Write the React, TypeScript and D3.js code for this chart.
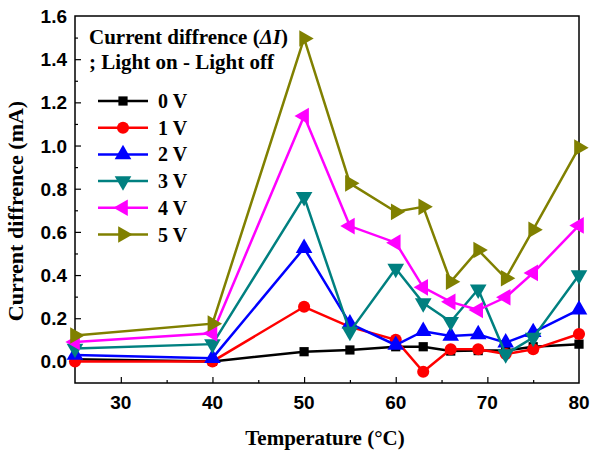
import React, { useRef, useEffect } from "react";
import * as d3 from "d3";

// temperatures (°C) and current difference (mA) for each bias
const temps = [25, 40, 50, 55, 60, 63, 66, 69, 72, 75, 80];
const v0 = [0.01, 0.0, 0.045, 0.053, 0.068, 0.068, 0.048, 0.05, 0.05, 0.068, 0.08];
const v1 = [0.0, 0.0, 0.253, 0.16, 0.1, -0.048, 0.056, 0.056, 0.034, 0.056, 0.127];
const v2 = [0.03, 0.015, 0.525, 0.175, 0.076, 0.14, 0.118, 0.125, 0.087, 0.135, 0.24];
const v3 = [0.06, 0.08, 0.762, 0.138, 0.43, 0.27, 0.184, 0.334, 0.034, 0.11, 0.4];
const v4 = [0.09, 0.13, 1.137, 0.627, 0.55, 0.343, 0.276, 0.238, 0.297, 0.41, 0.63];
const v5 = [0.12, 0.175, 1.496, 0.825, 0.693, 0.716, 0.369, 0.516, 0.385, 0.61, 0.99];
const seriesNames = ["0 V", "1 V", "2 V", "3 V", "4 V", "5 V"];
const xTicks = [30, 40, 50, 60, 70, 80];
const yTicks = [0, 0.2, 0.4, 0.6, 0.8, 1.0, 1.2, 1.4, 1.6];

const App = () => {
  const svgRef = useRef<SVGSVGElement>(null);

  useEffect(() => {
    const svg = d3.select(svgRef.current);
    svg.selectAll("*").remove();

    const margin = { top: 16, right: 12, bottom: 69, left: 75 };
    const width = 591 - margin.left - margin.right;
    const height = 452 - margin.top - margin.bottom;

    const x = d3.scaleLinear().domain([25, 80]).range([margin.left, margin.left + width]);
    const y = d3.scaleLinear().domain([-0.1, 1.6]).range([margin.top + height, margin.top]);

    const all = [v0, v1, v2, v3, v4, v5];
    const colors = ["#000000", "#ff0000", "#0000ff", "#008080", "#ff00ff", "#808000"];
    const shapes = [
      { type: d3.symbolSquare, size: 85, rot: 0 },
      { type: d3.symbolCircle, size: 115, rot: 0 },
      { type: d3.symbolTriangle, size: 120, rot: 0 },
      { type: d3.symbolTriangle, size: 120, rot: 180 },
      { type: d3.symbolTriangle, size: 120, rot: -90 },
      { type: d3.symbolTriangle, size: 120, rot: 90 },
    ];

    // frame
    svg
      .append("rect")
      .attr("x", margin.left)
      .attr("y", margin.top)
      .attr("width", width)
      .attr("height", height)
      .attr("fill", "none")
      .attr("stroke", "#000")
      .attr("stroke-width", 1.5);

    // x axis
    const gx = svg.append("g").attr("transform", `translate(0, ${margin.top + height})`);
    gx.call(d3.axisBottom(x).tickValues(d3.range(25, 81, 5)).tickSize(-6).tickFormat(() => ""))
      .select(".domain")
      .remove();
    gx.selectAll(".tick line")
      .attr("stroke-width", 1.2)
      .attr("y2", (d: any) => (xTicks.includes(d) ? -6 : -3));
    gx.selectAll(".tick")
      .filter((d: any) => d === 25 || d === 80)
      .select("line")
      .remove();
    svg
      .append("g")
      .selectAll("text")
      .data(xTicks)
      .join("text")
      .attr("x", (d) => x(d))
      .attr("y", margin.top + height + 26)
      .attr("text-anchor", "middle")
      .style("font-family", "Liberation Sans, Arial, sans-serif")
      .style("font-weight", "bold")
      .style("font-size", "19px")
      .text((d) => d);

    // y axis
    const gy = svg.append("g").attr("transform", `translate(${margin.left}, 0)`);
    gy.call(d3.axisLeft(y).tickValues(d3.range(-0.1, 1.61, 0.1)).tickSize(-6).tickFormat(() => ""))
      .select(".domain")
      .remove();
    gy.selectAll(".tick line")
      .attr("stroke-width", 1.2)
      .attr("x2", (d: any, i) => (i % 2 === 1 ? 6 : 3));
    gy.selectAll(".tick")
      .filter((d: any, i) => i === 0 || i === 17)
      .select("line")
      .remove();
    svg
      .append("g")
      .selectAll("text")
      .data(yTicks)
      .join("text")
      .attr("x", margin.left - 8)
      .attr("y", (d) => y(d) + 7)
      .attr("text-anchor", "end")
      .style("font-family", "Liberation Sans, Arial, sans-serif")
      .style("font-weight", "bold")
      .style("font-size", "19px")
      .text((d) => d.toFixed(1));

    // axis titles
    const serif = "Liberation Serif, Times New Roman, serif";
    svg
      .append("text")
      .attr("x", 325)
      .attr("y", 445)
      .attr("text-anchor", "middle")
      .style("font-family", serif)
      .style("font-weight", "bold")
      .style("font-size", "21px")
      .text("Temperature (°C)");
    svg
      .append("text")
      .attr("transform", `translate(23, 211) rotate(-90)`)
      .attr("text-anchor", "middle")
      .style("font-family", serif)
      .style("font-weight", "bold")
      .style("font-size", "22px")
      .text("Current diffrence (mA)");

    // series
    const line = d3
      .line<number>()
      .x((d, i) => x(temps[i]))
      .y((d) => y(d));

    all.forEach((vals, k) => {
      svg
        .append("path")
        .datum(vals)
        .attr("d", line)
        .attr("fill", "none")
        .attr("stroke", colors[k])
        .attr("stroke-width", 2.5)
        .attr("stroke-linejoin", "miter");
      const sym = d3.symbol().type(shapes[k].type).size(shapes[k].size);
      svg
        .append("g")
        .selectAll("path")
        .data(vals)
        .join("path")
        .attr("d", sym())
        .attr("transform", (d, i) => `translate(${x(temps[i])}, ${y(d)}) rotate(${shapes[k].rot})`)
        .attr("fill", colors[k]);
    });

    // title inside the plot
    const title = svg
      .append("text")
      .attr("x", 89)
      .attr("y", 44)
      .style("font-family", serif)
      .style("font-weight", "bold")
      .style("font-size", "21px");
    title.append("tspan").text("Current diffrence (");
    title.append("tspan").style("font-style", "italic").text("ΔI");
    title.append("tspan").text(")");
    svg
      .append("text")
      .attr("x", 89)
      .attr("y", 69)
      .style("font-family", serif)
      .style("font-weight", "bold")
      .style("font-size", "21px")
      .text("; Light on - Light off");

    // legend
    const legend = svg
      .append("g")
      .selectAll("g")
      .data(seriesNames)
      .join("g")
      .attr("transform", (d, i) => `translate(98, ${101 + i * 26.7})`);
    legend
      .append("line")
      .attr("x1", 0)
      .attr("x2", 50)
      .attr("stroke", (d, i) => colors[i])
      .attr("stroke-width", 2.5);
    legend
      .append("path")
      .attr("d", (d, i) => d3.symbol().type(shapes[i].type).size(shapes[i].size)())
      .attr("transform", (d, i) => `translate(25, 0) rotate(${shapes[i].rot})`)
      .attr("fill", (d, i) => colors[i]);
    legend
      .append("text")
      .attr("x", 60)
      .attr("y", 7)
      .style("font-family", serif)
      .style("font-weight", "bold")
      .style("font-size", "20px")
      .text((d) => d);
  }, []);

  return (
    <svg
      ref={svgRef}
      width={591}
      height={452}
      style={{ position: "absolute", left: 0, top: 0, background: "#fff" }}
    ></svg>
  );
};

export default App;
